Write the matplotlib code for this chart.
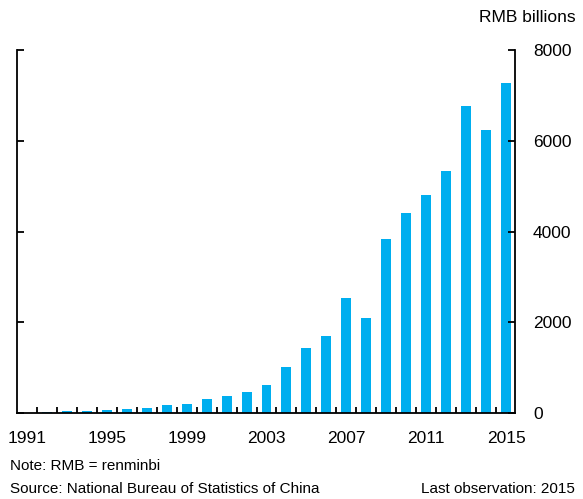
import numpy as np
import matplotlib
matplotlib.use("Agg")
import matplotlib.pyplot as plt
from matplotlib.ticker import FixedLocator

plt.rcParams['font.family'] = ['Liberation Sans', 'DejaVu Sans']

# data (RMB billions)
years = list(range(1991, 2016))
values = [10, 20, 44, 44, 66, 88, 110, 170, 205, 302, 375, 463, 624, 1014, 1432,
          1697, 2534, 2094, 3835, 4408, 4804, 5333, 6766, 6237, 7273]
xtick_years = [1991, 1995, 1999, 2003, 2007, 2011, 2015]
yticks = [0, 2000, 4000, 6000, 8000]

fs_tick = 12.5
fs_note = 11

fig = plt.figure(figsize=(5.83, 4.99), dpi=100)
ax = fig.add_axes([17 / 583, 1 - 413 / 499, (515 - 17) / 583, (413 - 50) / 499])

ax.bar(years, values, width=0.5, color="#00AEEF")

ax.set_xlim(1990.5, 2015.45)
ax.set_ylim(0, 8000)

ax.spines['top'].set_visible(False)
for s in ['left', 'right', 'bottom']:
    ax.spines[s].set_linewidth(1.3)

# y axis: labels on the right, ticks inward on both sides
ax.yaxis.tick_right()
ax.tick_params(axis='y', which='both', left=True, right=True, labelleft=False,
               labelright=True, direction='in', length=5, width=1.3, pad=13,
               labelsize=fs_tick)
ax.set_yticks(yticks)

# x axis: labels every 4 years, small ticks between bars
ax.set_xticks(xtick_years)
ax.tick_params(axis='x', which='major', length=0, pad=13, labelsize=fs_tick)
ax.xaxis.set_minor_locator(FixedLocator(np.arange(1991.5, 2015, 1.0)))
ax.tick_params(axis='x', which='minor', direction='in', length=4, width=1.3)

fig.text(576 / 583, 1 - 18 / 499, "RMB billions", ha='right', va='center', fontsize=fs_tick)
fig.text(10 / 583, 1 - 466 / 499, "Note: RMB = renminbi", ha='left', va='center',
         fontsize=fs_note)
fig.text(10 / 583, 1 - 489 / 499, "Source: National Bureau of Statistics of China",
         ha='left', va='center', fontsize=fs_note)
fig.text(575 / 583, 1 - 489 / 499, "Last observation: 2015", ha='right', va='center',
         fontsize=fs_note)

fig.savefig("out.png", dpi=100)
